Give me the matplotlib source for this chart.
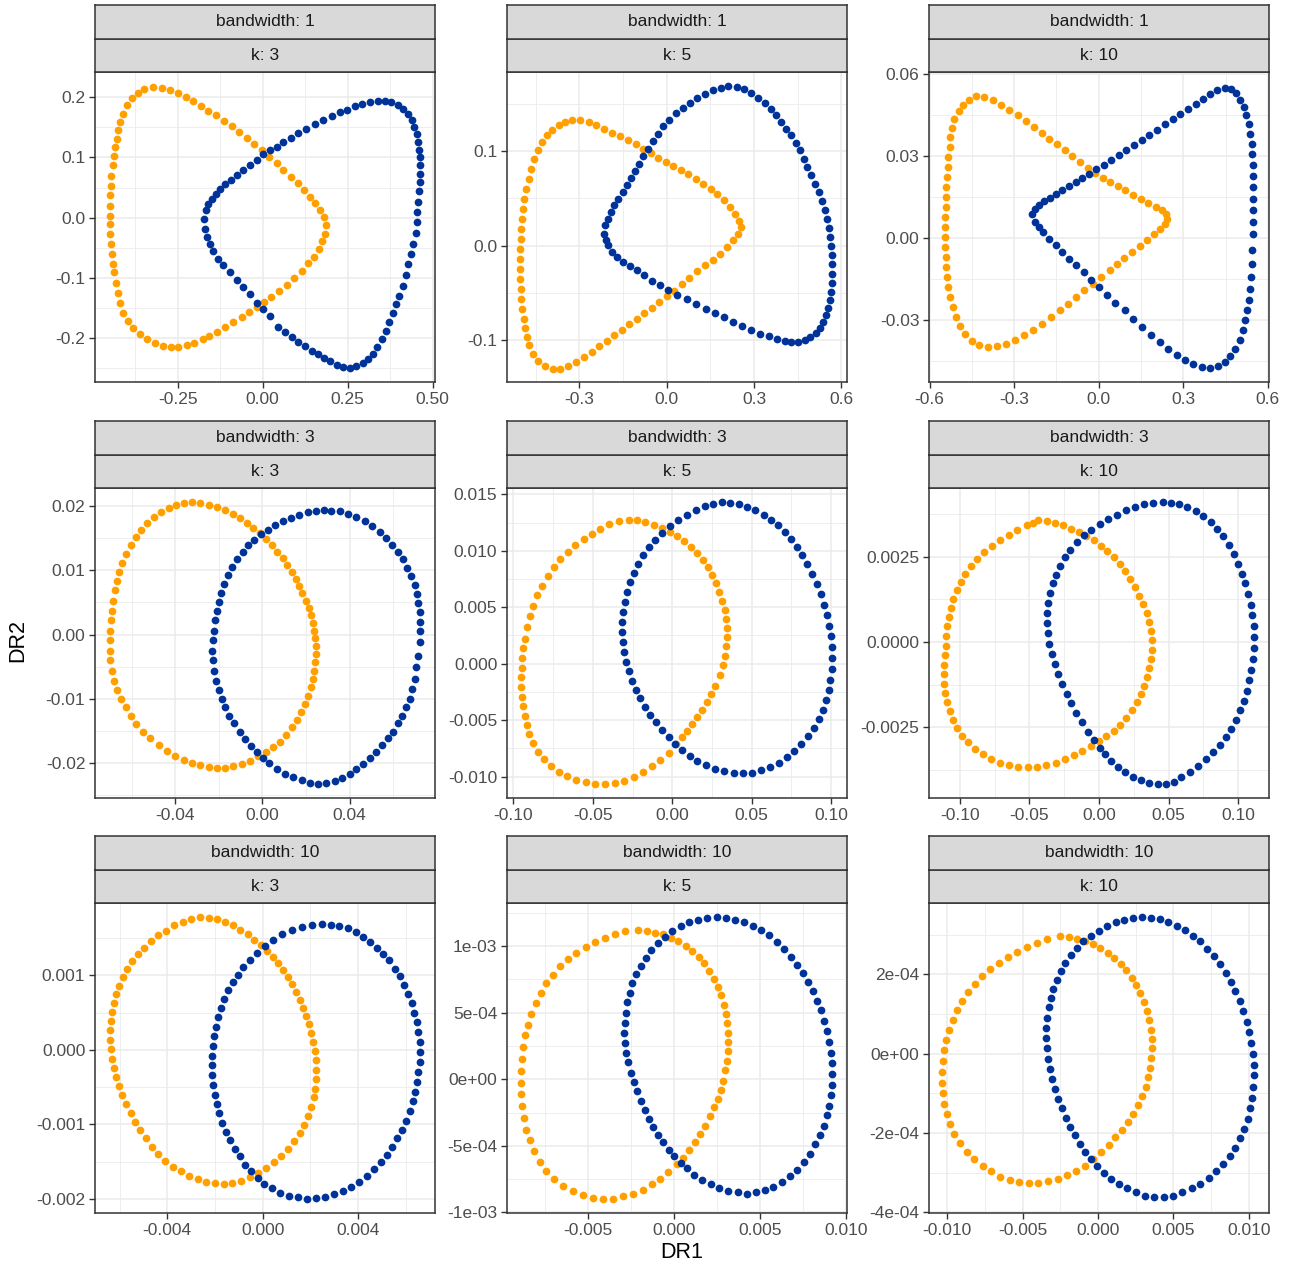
import numpy as np
import matplotlib
matplotlib.use("Agg")
import matplotlib.pyplot as plt
from matplotlib.ticker import FixedLocator, AutoMinorLocator

plt.rcParams["font.family"] = ["Liberation Sans", "DejaVu Sans"]

# ---------------------------------------------------------------------------
# Embedding coordinates (DR1, DR2) for each kernel bandwidth / neighbour count
# ---------------------------------------------------------------------------
bandwidths = [1, 3, 10]
ks = [3, 5, 10]

bw1_k3_orange = [
    (-0.321, 0.217), (-0.297, 0.216), (-0.272, 0.212), (-0.250, 0.207), (-0.226, 0.201),
    (-0.204, 0.194), (-0.181, 0.186), (-0.160, 0.178), (-0.137, 0.170), (-0.114, 0.161),
    (-0.091, 0.152), (-0.069, 0.142), (-0.047, 0.132), (-0.025, 0.123), (-0.003, 0.112),
    (0.020, 0.100), (0.041, 0.090), (0.061, 0.080), (0.082, 0.068), (0.103, 0.057),
    (0.122, 0.046), (0.139, 0.035), (0.154, 0.024), (0.169, 0.013), (0.180, 0.001),
    (0.186, -0.013), (0.183, -0.027), (0.176, -0.039), (0.167, -0.052), (0.151, -0.065),
    (0.134, -0.076), (0.115, -0.088), (0.092, -0.101), (0.071, -0.112), (0.049, -0.122),
    (0.026, -0.132), (0.004, -0.140), (-0.018, -0.148), (-0.039, -0.156), (-0.062, -0.165),
    (-0.086, -0.173), (-0.111, -0.182), (-0.135, -0.190), (-0.157, -0.197), (-0.176, -0.202),
    (-0.202, -0.208), (-0.223, -0.212), (-0.248, -0.215), (-0.270, -0.215), (-0.294, -0.213),
    (-0.317, -0.209), (-0.339, -0.202), (-0.361, -0.194), (-0.380, -0.183), (-0.397, -0.171),
    (-0.410, -0.158), (-0.419, -0.141), (-0.426, -0.125), (-0.431, -0.108), (-0.437, -0.091),
    (-0.441, -0.077), (-0.444, -0.061), (-0.447, -0.044), (-0.449, -0.027), (-0.449, -0.011),
    (-0.449, 0.003), (-0.449, 0.020), (-0.448, 0.037), (-0.447, 0.053), (-0.445, 0.070),
    (-0.441, 0.087), (-0.437, 0.103), (-0.433, 0.117), (-0.429, 0.131), (-0.424, 0.145),
    (-0.419, 0.159), (-0.412, 0.173), (-0.400, 0.187), (-0.385, 0.198), (-0.368, 0.207),
    (-0.349, 0.214),
]
bw1_k3_blue = [
    (-0.172, -0.002), (-0.168, 0.012), (-0.160, 0.023), (-0.150, 0.031), (-0.138, 0.039),
    (-0.125, 0.048), (-0.111, 0.056), (-0.094, 0.063), (-0.076, 0.071), (-0.057, 0.080),
    (-0.037, 0.088), (-0.018, 0.096), (0.002, 0.105), (0.022, 0.112), (0.041, 0.118),
    (0.061, 0.126), (0.082, 0.132), (0.105, 0.141), (0.129, 0.148), (0.154, 0.156),
    (0.178, 0.163), (0.203, 0.169), (0.227, 0.175), (0.247, 0.179), (0.272, 0.185),
    (0.291, 0.189), (0.316, 0.192), (0.340, 0.194), (0.360, 0.194), (0.379, 0.192),
    (0.399, 0.188), (0.414, 0.181), (0.428, 0.173), (0.438, 0.163), (0.446, 0.151),
    (0.453, 0.139), (0.458, 0.126), (0.460, 0.112), (0.463, 0.101), (0.463, 0.087),
    (0.463, 0.073), (0.463, 0.059), (0.461, 0.044), (0.458, 0.026), (0.455, 0.009),
    (0.453, -0.008), (0.450, -0.026), (0.443, -0.044), (0.436, -0.061), (0.428, -0.077),
    (0.421, -0.095), (0.412, -0.113), (0.402, -0.130), (0.392, -0.144), (0.382, -0.159),
    (0.373, -0.174), (0.362, -0.188), (0.350, -0.202), (0.337, -0.215), (0.325, -0.226),
    (0.311, -0.234), (0.294, -0.241), (0.276, -0.247), (0.257, -0.249), (0.237, -0.248),
    (0.218, -0.244), (0.198, -0.238), (0.180, -0.233), (0.164, -0.226), (0.144, -0.222),
    (0.125, -0.214), (0.105, -0.207), (0.085, -0.198), (0.066, -0.190), (0.046, -0.181),
    (0.022, -0.164), (0.000, -0.151), (-0.018, -0.141), (-0.037, -0.126), (-0.057, -0.115),
    (-0.076, -0.104), (-0.096, -0.091), (-0.116, -0.078), (-0.130, -0.068), (-0.145, -0.055),
    (-0.155, -0.044), (-0.165, -0.032), (-0.170, -0.019),
]

bw1_k5_orange = [
    (-0.325, 0.1336), (-0.297, 0.1329), (-0.268, 0.1308), (-0.242, 0.1276), (-0.215, 0.1240),
    (-0.188, 0.1198), (-0.160, 0.1159), (-0.134, 0.1117), (-0.106, 0.1074), (-0.080, 0.1028),
    (-0.055, 0.0982), (-0.029, 0.0933), (-0.002, 0.0887), (0.023, 0.0841), (0.048, 0.0799),
    (0.074, 0.0756), (0.100, 0.0710), (0.126, 0.0657), (0.151, 0.0604), (0.174, 0.0544),
    (0.196, 0.0481), (0.217, 0.0410), (0.234, 0.0339), (0.249, 0.0262), (0.254, 0.0198),
    (0.246, 0.0127), (0.228, 0.0057), (0.208, -0.0014), (0.183, -0.0085), (0.158, -0.0148),
    (0.131, -0.0209), (0.105, -0.0269), (0.078, -0.0339), (0.051, -0.0410), (0.025, -0.0481),
    (0.000, -0.0537), (-0.025, -0.0597), (-0.051, -0.0657), (-0.078, -0.0714), (-0.103, -0.0774),
    (-0.128, -0.0834), (-0.154, -0.0891), (-0.180, -0.0951), (-0.206, -0.1011), (-0.231, -0.1067),
    (-0.257, -0.1127), (-0.283, -0.1180), (-0.311, -0.1233), (-0.337, -0.1276), (-0.365, -0.1304),
    (-0.391, -0.1304), (-0.417, -0.1279), (-0.440, -0.1223), (-0.459, -0.1145), (-0.472, -0.1057),
    (-0.480, -0.0968), (-0.485, -0.0869), (-0.491, -0.0774), (-0.496, -0.0668), (-0.499, -0.0562),
    (-0.501, -0.0456), (-0.502, -0.0350), (-0.502, -0.0244), (-0.502, -0.0138), (-0.502, -0.0032),
    (-0.501, 0.0074), (-0.499, 0.0180), (-0.497, 0.0286), (-0.493, 0.0392), (-0.489, 0.0498),
    (-0.482, 0.0604), (-0.474, 0.0710), (-0.465, 0.0816), (-0.455, 0.0922), (-0.442, 0.1018),
    (-0.428, 0.1099), (-0.411, 0.1170), (-0.392, 0.1230), (-0.371, 0.1276), (-0.348, 0.1311),
]
bw1_k5_blue = [
    (-0.214, 0.0127), (-0.211, 0.0216), (-0.203, 0.0286), (-0.192, 0.0357), (-0.180, 0.0428),
    (-0.166, 0.0498), (-0.151, 0.0569), (-0.137, 0.0640), (-0.123, 0.0717), (-0.108, 0.0792),
    (-0.094, 0.0869), (-0.080, 0.0947), (-0.063, 0.1028), (-0.046, 0.1110), (-0.029, 0.1187),
    (-0.011, 0.1265), (0.009, 0.1336), (0.032, 0.1407), (0.055, 0.1463), (0.080, 0.1516),
    (0.105, 0.1566), (0.131, 0.1611), (0.158, 0.1647), (0.185, 0.1675), (0.211, 0.1689),
    (0.240, 0.1682), (0.266, 0.1657), (0.291, 0.1619), (0.314, 0.1569), (0.337, 0.1513),
    (0.357, 0.1452), (0.377, 0.1382), (0.394, 0.1311), (0.411, 0.1240), (0.428, 0.1170),
    (0.443, 0.1092), (0.457, 0.1011), (0.471, 0.0922), (0.483, 0.0834), (0.497, 0.0746),
    (0.510, 0.0657), (0.522, 0.0569), (0.533, 0.0474), (0.542, 0.0382), (0.550, 0.0286),
    (0.556, 0.0191), (0.562, 0.0092), (0.565, -0.0007), (0.568, -0.0102), (0.569, -0.0198),
    (0.569, -0.0297), (0.568, -0.0396), (0.565, -0.0491), (0.560, -0.0580), (0.554, -0.0657),
    (0.546, -0.0739), (0.537, -0.0809), (0.525, -0.0873), (0.512, -0.0926), (0.493, -0.0968),
    (0.474, -0.1004), (0.451, -0.1021), (0.428, -0.1021), (0.405, -0.1011), (0.379, -0.0990),
    (0.351, -0.0961), (0.320, -0.0933), (0.291, -0.0898), (0.260, -0.0855), (0.228, -0.0809),
    (0.196, -0.0756), (0.166, -0.0710), (0.134, -0.0668), (0.100, -0.0615), (0.069, -0.0562),
    (0.037, -0.0520), (0.006, -0.0466), (-0.023, -0.0413), (-0.051, -0.0375), (-0.078, -0.0315),
    (-0.103, -0.0262), (-0.126, -0.0216), (-0.151, -0.0173), (-0.171, -0.0120), (-0.188, -0.0067),
    (-0.202, 0.0004), (-0.209, 0.0064),
]

bw1_k10_orange = [
    (-0.435, 0.0520), (-0.406, 0.0517), (-0.376, 0.0505), (-0.347, 0.0489), (-0.318, 0.0471),
    (-0.288, 0.0450), (-0.259, 0.0429), (-0.229, 0.0407), (-0.202, 0.0386), (-0.176, 0.0365),
    (-0.149, 0.0344), (-0.121, 0.0322), (-0.094, 0.0300), (-0.065, 0.0279), (-0.038, 0.0259),
    (-0.012, 0.0239), (0.015, 0.0222), (0.041, 0.0206), (0.067, 0.0190), (0.094, 0.0176),
    (0.121, 0.0160), (0.149, 0.0145), (0.176, 0.0131), (0.203, 0.0115), (0.223, 0.0102),
    (0.239, 0.0088), (0.243, 0.0072), (0.235, 0.0054), (0.218, 0.0035), (0.196, 0.0015),
    (0.171, -0.0007), (0.145, -0.0028), (0.118, -0.0050), (0.091, -0.0071), (0.065, -0.0093),
    (0.039, -0.0115), (0.008, -0.0142), (-0.020, -0.0166), (-0.051, -0.0190), (-0.079, -0.0215),
    (-0.109, -0.0239), (-0.138, -0.0264), (-0.168, -0.0288), (-0.200, -0.0312), (-0.232, -0.0334),
    (-0.265, -0.0355), (-0.298, -0.0373), (-0.329, -0.0388), (-0.361, -0.0395), (-0.394, -0.0398),
    (-0.423, -0.0392), (-0.450, -0.0376), (-0.474, -0.0351), (-0.492, -0.0322), (-0.506, -0.0288),
    (-0.517, -0.0251), (-0.526, -0.0215), (-0.533, -0.0178), (-0.537, -0.0142), (-0.541, -0.0105),
    (-0.543, -0.0068), (-0.545, -0.0032), (-0.545, 0.0005), (-0.545, 0.0041), (-0.545, 0.0078),
    (-0.543, 0.0115), (-0.542, 0.0151), (-0.540, 0.0188), (-0.537, 0.0224), (-0.535, 0.0261),
    (-0.533, 0.0298), (-0.529, 0.0334), (-0.526, 0.0371), (-0.521, 0.0405), (-0.512, 0.0438),
    (-0.497, 0.0466), (-0.480, 0.0490), (-0.459, 0.0508),
]
bw1_k10_blue = [
    (-0.235, 0.0090), (-0.227, 0.0109), (-0.212, 0.0123), (-0.194, 0.0135), (-0.173, 0.0148),
    (-0.153, 0.0161), (-0.129, 0.0176), (-0.106, 0.0190), (-0.082, 0.0206), (-0.059, 0.0222),
    (-0.033, 0.0237), (-0.008, 0.0255), (0.018, 0.0270), (0.044, 0.0285), (0.071, 0.0304),
    (0.098, 0.0322), (0.126, 0.0340), (0.153, 0.0359), (0.180, 0.0379), (0.206, 0.0398),
    (0.235, 0.0420), (0.262, 0.0438), (0.288, 0.0456), (0.318, 0.0475), (0.345, 0.0493),
    (0.370, 0.0511), (0.394, 0.0527), (0.420, 0.0542), (0.447, 0.0551), (0.470, 0.0548),
    (0.488, 0.0532), (0.502, 0.0508), (0.514, 0.0481), (0.523, 0.0450), (0.532, 0.0420),
    (0.537, 0.0383), (0.542, 0.0346), (0.544, 0.0307), (0.547, 0.0267), (0.547, 0.0227),
    (0.548, 0.0188), (0.548, 0.0145), (0.548, 0.0102), (0.548, 0.0060), (0.547, 0.0017),
    (0.544, -0.0044), (0.542, -0.0093), (0.539, -0.0142), (0.535, -0.0184), (0.532, -0.0227),
    (0.526, -0.0264), (0.520, -0.0300), (0.512, -0.0337), (0.500, -0.0373), (0.485, -0.0404),
    (0.467, -0.0431), (0.447, -0.0453), (0.423, -0.0467), (0.394, -0.0475), (0.365, -0.0471),
    (0.335, -0.0459), (0.306, -0.0444), (0.276, -0.0426), (0.247, -0.0404), (0.218, -0.0379),
    (0.186, -0.0353), (0.155, -0.0325), (0.123, -0.0294), (0.092, -0.0264), (0.059, -0.0235),
    (0.029, -0.0209), (0.000, -0.0178), (-0.027, -0.0151), (-0.053, -0.0123), (-0.079, -0.0099),
    (-0.106, -0.0074), (-0.129, -0.0050), (-0.153, -0.0026), (-0.176, -0.0001), (-0.196, 0.0023),
    (-0.212, 0.0041), (-0.227, 0.0060),
]

bw3_k3_orange = [
    (-0.0323, 0.0206), (-0.0285, 0.0205), (-0.0247, 0.0202), (-0.0209, 0.0199), (-0.0171, 0.0194),
    (-0.0136, 0.0188), (-0.0102, 0.0181), (-0.0072, 0.0174), (-0.0041, 0.0166), (-0.0011, 0.0158),
    (0.0017, 0.0149), (0.0043, 0.0140), (0.0069, 0.0129), (0.0093, 0.0119), (0.0114, 0.0108),
    (0.0134, 0.0098), (0.0152, 0.0087), (0.0169, 0.0076), (0.0184, 0.0065), (0.0200, 0.0053),
    (0.0212, 0.0041), (0.0222, 0.0030), (0.0230, 0.0018), (0.0238, 0.0006), (0.0242, -0.0006),
    (0.0245, -0.0017), (0.0245, -0.0030), (0.0242, -0.0043), (0.0238, -0.0056), (0.0230, -0.0069),
    (0.0221, -0.0082), (0.0209, -0.0095), (0.0195, -0.0108), (0.0177, -0.0121), (0.0157, -0.0133),
    (0.0134, -0.0144), (0.0108, -0.0156), (0.0081, -0.0167), (0.0050, -0.0175), (0.0017, -0.0183),
    (-0.0018, -0.0189), (-0.0056, -0.0196), (-0.0094, -0.0201), (-0.0133, -0.0204), (-0.0171, -0.0207),
    (-0.0209, -0.0207), (-0.0247, -0.0206), (-0.0285, -0.0203), (-0.0323, -0.0200), (-0.0361, -0.0195),
    (-0.0399, -0.0188), (-0.0437, -0.0181), (-0.0475, -0.0172), (-0.0514, -0.0161), (-0.0547, -0.0151),
    (-0.0578, -0.0139), (-0.0605, -0.0126), (-0.0628, -0.0113), (-0.0648, -0.0100), (-0.0666, -0.0086),
    (-0.0681, -0.0072), (-0.0692, -0.0056), (-0.0698, -0.0040), (-0.0701, -0.0025), (-0.0701, -0.0009),
    (-0.0700, 0.0006), (-0.0696, 0.0022), (-0.0692, 0.0037), (-0.0686, 0.0053), (-0.0678, 0.0069),
    (-0.0669, 0.0084), (-0.0657, 0.0098), (-0.0643, 0.0112), (-0.0625, 0.0126), (-0.0605, 0.0139),
    (-0.0582, 0.0152), (-0.0556, 0.0163), (-0.0529, 0.0174), (-0.0498, 0.0183), (-0.0465, 0.0190),
    (-0.0430, 0.0197), (-0.0395, 0.0202), (-0.0358, 0.0205),
]
bw3_k3_blue = [
    (0.0317, 0.0193), (0.0355, 0.0192), (0.0393, 0.0188), (0.0431, 0.0183), (0.0469, 0.0176),
    (0.0504, 0.0169), (0.0538, 0.0160), (0.0568, 0.0151), (0.0596, 0.0140), (0.0622, 0.0129),
    (0.0645, 0.0117), (0.0664, 0.0104), (0.0683, 0.0091), (0.0698, 0.0077), (0.0709, 0.0063),
    (0.0716, 0.0049), (0.0721, 0.0035), (0.0724, 0.0020), (0.0724, 0.0005), (0.0721, -0.0012),
    (0.0713, -0.0033), (0.0706, -0.0051), (0.0698, -0.0069), (0.0687, -0.0085), (0.0675, -0.0100),
    (0.0660, -0.0113), (0.0642, -0.0126), (0.0622, -0.0138), (0.0599, -0.0151), (0.0576, -0.0161),
    (0.0550, -0.0172), (0.0523, -0.0182), (0.0492, -0.0192), (0.0462, -0.0201), (0.0431, -0.0209),
    (0.0401, -0.0217), (0.0367, -0.0223), (0.0332, -0.0228), (0.0294, -0.0231), (0.0256, -0.0233),
    (0.0218, -0.0230), (0.0180, -0.0226), (0.0142, -0.0222), (0.0104, -0.0216), (0.0066, -0.0209),
    (0.0032, -0.0200), (0.0002, -0.0192), (-0.0026, -0.0183), (-0.0052, -0.0173), (-0.0079, -0.0162),
    (-0.0105, -0.0151), (-0.0130, -0.0138), (-0.0151, -0.0126), (-0.0171, -0.0113), (-0.0187, -0.0100),
    (-0.0201, -0.0086), (-0.0213, -0.0072), (-0.0223, -0.0056), (-0.0227, -0.0040), (-0.0229, -0.0025),
    (-0.0227, -0.0009), (-0.0224, 0.0006), (-0.0218, 0.0022), (-0.0210, 0.0036), (-0.0201, 0.0050),
    (-0.0189, 0.0065), (-0.0175, 0.0078), (-0.0158, 0.0092), (-0.0140, 0.0105), (-0.0117, 0.0117),
    (-0.0091, 0.0128), (-0.0064, 0.0139), (-0.0037, 0.0147), (-0.0006, 0.0156), (0.0024, 0.0162),
    (0.0058, 0.0170), (0.0093, 0.0176), (0.0130, 0.0182), (0.0169, 0.0186), (0.0207, 0.0190),
    (0.0245, 0.0193), (0.0282, 0.0194),
]

bw3_k5_orange = [
    (-0.0275, 0.01275), (-0.0222, 0.01269), (-0.0170, 0.01255), (-0.0117, 0.01231), (-0.0065, 0.01201),
    (-0.0017, 0.01166), (0.0029, 0.01127), (0.0076, 0.01083), (0.0117, 0.01033), (0.0155, 0.00979),
    (0.0191, 0.00920), (0.0222, 0.00855), (0.0250, 0.00787), (0.0275, 0.00716), (0.0296, 0.00639),
    (0.0315, 0.00559), (0.0329, 0.00479), (0.0340, 0.00397), (0.0344, 0.00314), (0.0344, 0.00234),
    (0.0340, 0.00154), (0.0331, 0.00071), (0.0319, -0.00012), (0.0298, -0.00101), (0.0271, -0.00195),
    (0.0245, -0.00269), (0.0218, -0.00343), (0.0187, -0.00411), (0.0155, -0.00476), (0.0124, -0.00536),
    (0.0092, -0.00595), (0.0061, -0.00654), (0.0025, -0.00713), (-0.0023, -0.00787), (-0.0076, -0.00852),
    (-0.0128, -0.00908), (-0.0185, -0.00959), (-0.0243, -0.01003), (-0.0302, -0.01036), (-0.0363, -0.01056),
    (-0.0424, -0.01065), (-0.0485, -0.01062), (-0.0545, -0.01050), (-0.0604, -0.01030), (-0.0661, -0.00997),
    (-0.0713, -0.00956), (-0.0764, -0.00905), (-0.0808, -0.00846), (-0.0845, -0.00781), (-0.0877, -0.00707),
    (-0.0900, -0.00627), (-0.0917, -0.00544), (-0.0929, -0.00462), (-0.0940, -0.00379), (-0.0946, -0.00293),
    (-0.0950, -0.00207), (-0.0950, -0.00121), (-0.0948, -0.00036), (-0.0944, 0.00050), (-0.0938, 0.00136),
    (-0.0929, 0.00219), (-0.0915, 0.00323), (-0.0898, 0.00420), (-0.0877, 0.00515), (-0.0852, 0.00604),
    (-0.0820, 0.00692), (-0.0785, 0.00775), (-0.0747, 0.00855), (-0.0705, 0.00923), (-0.0659, 0.00988),
    (-0.0611, 0.01047), (-0.0558, 0.01101), (-0.0506, 0.01151), (-0.0453, 0.01195), (-0.0397, 0.01234),
    (-0.0338, 0.01261),
]
bw3_k5_blue = [
    (0.0313, 0.01432), (0.0365, 0.01426), (0.0418, 0.01411), (0.0470, 0.01388), (0.0522, 0.01358),
    (0.0575, 0.01320), (0.0621, 0.01275), (0.0665, 0.01225), (0.0707, 0.01166), (0.0747, 0.01101),
    (0.0785, 0.01033), (0.0816, 0.00959), (0.0848, 0.00879), (0.0879, 0.00796), (0.0911, 0.00707),
    (0.0936, 0.00618), (0.0957, 0.00524), (0.0973, 0.00432), (0.0988, 0.00337), (0.0997, 0.00243),
    (0.1003, 0.00145), (0.1005, 0.00047), (0.1003, -0.00047), (0.0994, -0.00142), (0.0984, -0.00234),
    (0.0967, -0.00323), (0.0946, -0.00408), (0.0921, -0.00491), (0.0890, -0.00571), (0.0854, -0.00645),
    (0.0812, -0.00713), (0.0768, -0.00772), (0.0722, -0.00826), (0.0669, -0.00876), (0.0617, -0.00914),
    (0.0560, -0.00944), (0.0501, -0.00965), (0.0445, -0.00971), (0.0386, -0.00965), (0.0327, -0.00950),
    (0.0271, -0.00929), (0.0214, -0.00900), (0.0159, -0.00861), (0.0109, -0.00817), (0.0061, -0.00766),
    (0.0019, -0.00713), (-0.0023, -0.00654), (-0.0065, -0.00589), (-0.0103, -0.00521), (-0.0138, -0.00453),
    (-0.0170, -0.00382), (-0.0201, -0.00308), (-0.0229, -0.00231), (-0.0254, -0.00151), (-0.0275, -0.00068),
    (-0.0292, 0.00018), (-0.0304, 0.00107), (-0.0313, 0.00195), (-0.0317, 0.00284), (-0.0315, 0.00373),
    (-0.0308, 0.00462), (-0.0298, 0.00550), (-0.0283, 0.00639), (-0.0264, 0.00722), (-0.0241, 0.00805),
    (-0.0214, 0.00885), (-0.0183, 0.00959), (-0.0147, 0.01030), (-0.0107, 0.01098), (-0.0063, 0.01160),
    (-0.0015, 0.01219), (0.0038, 0.01272), (0.0092, 0.01320), (0.0149, 0.01361), (0.0204, 0.01394),
    (0.0258, 0.01417),
]

bw3_k10_orange = [
    (-0.0436, 0.00357), (-0.0376, 0.00355), (-0.0317, 0.00350), (-0.0257, 0.00343), (-0.0198, 0.00333),
    (-0.0143, 0.00322), (-0.0090, 0.00311), (-0.0038, 0.00298), (0.0012, 0.00283), (0.0060, 0.00267),
    (0.0105, 0.00249), (0.0148, 0.00229), (0.0188, 0.00208), (0.0226, 0.00185), (0.0260, 0.00161),
    (0.0290, 0.00136), (0.0319, 0.00112), (0.0343, 0.00085), (0.0362, 0.00058), (0.0374, 0.00031),
    (0.0381, 0.00005), (0.0381, -0.00023), (0.0374, -0.00050), (0.0362, -0.00076), (0.0345, -0.00103),
    (0.0326, -0.00128), (0.0302, -0.00153), (0.0271, -0.00177), (0.0236, -0.00201), (0.0195, -0.00223),
    (0.0152, -0.00243), (0.0105, -0.00261), (0.0052, -0.00277), (-0.0002, -0.00291), (-0.0060, -0.00305),
    (-0.0119, -0.00319), (-0.0181, -0.00331), (-0.0245, -0.00343), (-0.0312, -0.00354), (-0.0379, -0.00362),
    (-0.0445, -0.00367), (-0.0512, -0.00368), (-0.0579, -0.00367), (-0.0645, -0.00362), (-0.0710, -0.00354),
    (-0.0774, -0.00343), (-0.0833, -0.00329), (-0.0888, -0.00314), (-0.0940, -0.00295), (-0.0983, -0.00275),
    (-0.1019, -0.00253), (-0.1050, -0.00228), (-0.1074, -0.00204), (-0.1093, -0.00177), (-0.1105, -0.00150),
    (-0.1112, -0.00123), (-0.1114, -0.00094), (-0.1112, -0.00067), (-0.1107, -0.00038), (-0.1102, -0.00011),
    (-0.1098, 0.00017), (-0.1090, 0.00046), (-0.1081, 0.00074), (-0.1067, 0.00100), (-0.1048, 0.00126),
    (-0.1024, 0.00152), (-0.0995, 0.00176), (-0.0960, 0.00200), (-0.0919, 0.00222), (-0.0874, 0.00243),
    (-0.0824, 0.00264), (-0.0769, 0.00281), (-0.0710, 0.00299), (-0.0650, 0.00315), (-0.0586, 0.00329),
    (-0.0521, 0.00342), (-0.0474, 0.00350),
]
bw3_k10_blue = [
    (0.0457, 0.00411), (0.0517, 0.00409), (0.0576, 0.00404), (0.0636, 0.00396), (0.0695, 0.00384),
    (0.0750, 0.00369), (0.0802, 0.00353), (0.0850, 0.00333), (0.0893, 0.00311), (0.0933, 0.00286),
    (0.0969, 0.00259), (0.1000, 0.00230), (0.1029, 0.00201), (0.1052, 0.00172), (0.1074, 0.00141),
    (0.1090, 0.00110), (0.1102, 0.00078), (0.1112, 0.00046), (0.1114, 0.00015), (0.1112, -0.00018),
    (0.1105, -0.00050), (0.1095, -0.00081), (0.1081, -0.00113), (0.1062, -0.00143), (0.1040, -0.00172),
    (0.1014, -0.00201), (0.0983, -0.00228), (0.0950, -0.00255), (0.0912, -0.00279), (0.0869, -0.00303),
    (0.0821, -0.00324), (0.0769, -0.00344), (0.0712, -0.00364), (0.0652, -0.00381), (0.0593, -0.00397),
    (0.0536, -0.00410), (0.0481, -0.00417), (0.0421, -0.00417), (0.0362, -0.00413), (0.0302, -0.00405),
    (0.0245, -0.00395), (0.0188, -0.00382), (0.0136, -0.00367), (0.0088, -0.00349), (0.0045, -0.00330),
    (0.0005, -0.00310), (-0.0036, -0.00287), (-0.0079, -0.00263), (-0.0121, -0.00236), (-0.0162, -0.00209),
    (-0.0200, -0.00180), (-0.0233, -0.00152), (-0.0264, -0.00123), (-0.0293, -0.00093), (-0.0319, -0.00064),
    (-0.0340, -0.00034), (-0.0357, -0.00005), (-0.0369, 0.00025), (-0.0374, 0.00056), (-0.0371, 0.00085),
    (-0.0364, 0.00115), (-0.0350, 0.00144), (-0.0331, 0.00172), (-0.0307, 0.00198), (-0.0279, 0.00224),
    (-0.0245, 0.00249), (-0.0205, 0.00271), (-0.0160, 0.00293), (-0.0110, 0.00313), (-0.0055, 0.00330),
    (0.0005, 0.00347), (0.0064, 0.00362), (0.0129, 0.00374), (0.0195, 0.00387), (0.0260, 0.00397),
    (0.0326, 0.00404), (0.0390, 0.00409),
]

bw10_k3_orange = [
    (-0.00261, 0.00178), (-0.00226, 0.00177), (-0.00191, 0.00175), (-0.00156, 0.00171), (-0.00124, 0.00167),
    (-0.00094, 0.00161), (-0.00063, 0.00155), (-0.00035, 0.00148), (-0.00007, 0.00141), (0.00018, 0.00133),
    (0.00042, 0.00125), (0.00064, 0.00116), (0.00085, 0.00107), (0.00105, 0.00098), (0.00123, 0.00088),
    (0.00140, 0.00077), (0.00155, 0.00067), (0.00169, 0.00056), (0.00181, 0.00045), (0.00193, 0.00034),
    (0.00202, 0.00022), (0.00211, 0.00010), (0.00218, -0.00002), (0.00222, -0.00014), (0.00225, -0.00027),
    (0.00223, -0.00039), (0.00221, -0.00052), (0.00214, -0.00064), (0.00204, -0.00077), (0.00191, -0.00089),
    (0.00174, -0.00101), (0.00155, -0.00112), (0.00133, -0.00123), (0.00106, -0.00133), (0.00077, -0.00142),
    (0.00046, -0.00151), (0.00014, -0.00159), (-0.00021, -0.00165), (-0.00054, -0.00171), (-0.00091, -0.00176),
    (-0.00127, -0.00179), (-0.00163, -0.00180), (-0.00200, -0.00179), (-0.00236, -0.00177), (-0.00272, -0.00174),
    (-0.00307, -0.00169), (-0.00342, -0.00163), (-0.00376, -0.00157), (-0.00408, -0.00149), (-0.00438, -0.00140),
    (-0.00466, -0.00130), (-0.00491, -0.00119), (-0.00515, -0.00108), (-0.00536, -0.00097), (-0.00554, -0.00085),
    (-0.00571, -0.00073), (-0.00588, -0.00061), (-0.00602, -0.00049), (-0.00614, -0.00037), (-0.00624, -0.00024),
    (-0.00631, -0.00012), (-0.00637, 0.00001), (-0.00639, 0.00013), (-0.00639, 0.00026), (-0.00637, 0.00039),
    (-0.00631, 0.00051), (-0.00624, 0.00063), (-0.00614, 0.00075), (-0.00602, 0.00086), (-0.00586, 0.00098),
    (-0.00568, 0.00108), (-0.00547, 0.00119), (-0.00524, 0.00129), (-0.00498, 0.00137), (-0.00470, 0.00146),
    (-0.00440, 0.00154), (-0.00406, 0.00160), (-0.00373, 0.00167), (-0.00336, 0.00172), (-0.00300, 0.00176),
]
bw10_k3_blue = [
    (0.00248, 0.00169), (0.00286, 0.00168), (0.00322, 0.00166), (0.00357, 0.00163), (0.00391, 0.00158),
    (0.00423, 0.00152), (0.00452, 0.00145), (0.00480, 0.00137), (0.00507, 0.00129), (0.00532, 0.00120),
    (0.00556, 0.00109), (0.00577, 0.00099), (0.00595, 0.00087), (0.00611, 0.00075), (0.00625, 0.00063),
    (0.00637, 0.00050), (0.00646, 0.00037), (0.00653, 0.00024), (0.00658, 0.00011), (0.00659, -0.00003),
    (0.00658, -0.00016), (0.00653, -0.00030), (0.00648, -0.00043), (0.00639, -0.00056), (0.00630, -0.00069),
    (0.00617, -0.00082), (0.00602, -0.00095), (0.00585, -0.00107), (0.00565, -0.00119), (0.00544, -0.00130),
    (0.00521, -0.00141), (0.00496, -0.00151), (0.00468, -0.00160), (0.00437, -0.00169), (0.00405, -0.00177),
    (0.00371, -0.00184), (0.00336, -0.00189), (0.00300, -0.00194), (0.00262, -0.00197), (0.00225, -0.00199),
    (0.00186, -0.00200), (0.00148, -0.00198), (0.00110, -0.00196), (0.00074, -0.00192), (0.00039, -0.00186),
    (0.00007, -0.00180), (-0.00021, -0.00172), (-0.00047, -0.00163), (-0.00073, -0.00154), (-0.00096, -0.00143),
    (-0.00117, -0.00133), (-0.00137, -0.00121), (-0.00154, -0.00110), (-0.00169, -0.00098), (-0.00181, -0.00085),
    (-0.00193, -0.00073), (-0.00201, -0.00060), (-0.00208, -0.00047), (-0.00212, -0.00034), (-0.00214, -0.00021),
    (-0.00212, -0.00008), (-0.00209, 0.00005), (-0.00204, 0.00018), (-0.00195, 0.00031), (-0.00186, 0.00044),
    (-0.00175, 0.00056), (-0.00161, 0.00068), (-0.00144, 0.00080), (-0.00126, 0.00091), (-0.00105, 0.00101),
    (-0.00081, 0.00111), (-0.00053, 0.00121), (-0.00022, 0.00130), (0.00010, 0.00139), (0.00045, 0.00148),
    (0.00082, 0.00155), (0.00123, 0.00161), (0.00165, 0.00165), (0.00207, 0.00168),
]

bw10_k5_orange = [
    (-0.00206, 0.00112), (-0.00157, 0.00111), (-0.00109, 0.00110), (-0.00060, 0.00109), (-0.00016, 0.00106),
    (0.00027, 0.00104), (0.00070, 0.00100), (0.00109, 0.00096), (0.00146, 0.00092), (0.00178, 0.00087),
    (0.00208, 0.00081), (0.00235, 0.00075), (0.00258, 0.00069), (0.00277, 0.00063), (0.00293, 0.00056),
    (0.00305, 0.00049), (0.00312, 0.00042), (0.00316, 0.00035), (0.00316, 0.00028), (0.00314, 0.00021),
    (0.00308, 0.00014), (0.00301, 0.00007), (0.00289, -0.00001), (0.00274, -0.00008), (0.00256, -0.00015),
    (0.00235, -0.00021), (0.00211, -0.00028), (0.00184, -0.00035), (0.00155, -0.00041), (0.00122, -0.00047),
    (0.00087, -0.00053), (0.00052, -0.00059), (0.00017, -0.00064), (-0.00031, -0.00070), (-0.00080, -0.00075),
    (-0.00128, -0.00079), (-0.00180, -0.00083), (-0.00235, -0.00086), (-0.00293, -0.00088), (-0.00351, -0.00090),
    (-0.00409, -0.00090), (-0.00468, -0.00089), (-0.00526, -0.00087), (-0.00584, -0.00084), (-0.00642, -0.00080),
    (-0.00695, -0.00075), (-0.00739, -0.00069), (-0.00778, -0.00062), (-0.00811, -0.00054), (-0.00836, -0.00046),
    (-0.00856, -0.00038), (-0.00871, -0.00029), (-0.00881, -0.00020), (-0.00887, -0.00011), (-0.00889, -0.00003),
    (-0.00887, 0.00006), (-0.00883, 0.00015), (-0.00875, 0.00024), (-0.00863, 0.00033), (-0.00848, 0.00041),
    (-0.00826, 0.00049), (-0.00801, 0.00057), (-0.00772, 0.00065), (-0.00739, 0.00072), (-0.00700, 0.00078),
    (-0.00658, 0.00085), (-0.00613, 0.00090), (-0.00565, 0.00095), (-0.00512, 0.00099), (-0.00458, 0.00103),
    (-0.00400, 0.00106), (-0.00342, 0.00109), (-0.00283, 0.00111),
]
bw10_k5_blue = [
    (0.00250, 0.00122), (0.00305, 0.00121), (0.00357, 0.00120), (0.00409, 0.00118), (0.00460, 0.00115),
    (0.00508, 0.00112), (0.00555, 0.00108), (0.00599, 0.00103), (0.00642, 0.00098), (0.00681, 0.00092),
    (0.00718, 0.00086), (0.00751, 0.00080), (0.00782, 0.00073), (0.00809, 0.00066), (0.00834, 0.00059),
    (0.00856, 0.00052), (0.00875, 0.00044), (0.00890, 0.00036), (0.00902, 0.00028), (0.00912, 0.00020),
    (0.00918, 0.00012), (0.00920, 0.00004), (0.00918, -0.00004), (0.00912, -0.00012), (0.00902, -0.00020),
    (0.00889, -0.00027), (0.00871, -0.00035), (0.00848, -0.00042), (0.00821, -0.00049), (0.00790, -0.00056),
    (0.00755, -0.00062), (0.00716, -0.00068), (0.00673, -0.00073), (0.00629, -0.00077), (0.00580, -0.00081),
    (0.00530, -0.00083), (0.00477, -0.00085), (0.00425, -0.00086), (0.00371, -0.00085), (0.00318, -0.00084),
    (0.00266, -0.00082), (0.00215, -0.00079), (0.00167, -0.00076), (0.00120, -0.00072), (0.00078, -0.00067),
    (0.00041, -0.00063), (0.00004, -0.00058), (-0.00029, -0.00053), (-0.00060, -0.00047), (-0.00089, -0.00042),
    (-0.00118, -0.00036), (-0.00144, -0.00030), (-0.00169, -0.00023), (-0.00192, -0.00016), (-0.00213, -0.00009),
    (-0.00233, -0.00002), (-0.00250, 0.00005), (-0.00264, 0.00013), (-0.00275, 0.00020), (-0.00283, 0.00027),
    (-0.00287, 0.00035), (-0.00285, 0.00042), (-0.00279, 0.00050), (-0.00270, 0.00058), (-0.00256, 0.00065),
    (-0.00239, 0.00072), (-0.00217, 0.00079), (-0.00192, 0.00085), (-0.00163, 0.00091), (-0.00130, 0.00097),
    (-0.00093, 0.00102), (-0.00052, 0.00107), (-0.00008, 0.00111), (0.00041, 0.00115), (0.00091, 0.00118),
    (0.00143, 0.00120), (0.00196, 0.00121),
]

bw10_k10_orange = [
    (-0.00250, 0.000296), (-0.00195, 0.000294), (-0.00140, 0.000290), (-0.00084, 0.000284), (-0.00033, 0.000276),
    (0.00016, 0.000267), (0.00064, 0.000255), (0.00109, 0.000242), (0.00151, 0.000227), (0.00188, 0.000211),
    (0.00224, 0.000192), (0.00255, 0.000173), (0.00281, 0.000152), (0.00303, 0.000130), (0.00323, 0.000107),
    (0.00339, 0.000084), (0.00350, 0.000060), (0.00357, 0.000037), (0.00359, 0.000013), (0.00354, -0.000012),
    (0.00346, -0.000036), (0.00332, -0.000060), (0.00315, -0.000084), (0.00292, -0.000107), (0.00266, -0.000130),
    (0.00235, -0.000152), (0.00199, -0.000173), (0.00159, -0.000193), (0.00115, -0.000211), (0.00071, -0.000230),
    (0.00020, -0.000248), (-0.00033, -0.000267), (-0.00089, -0.000283), (-0.00146, -0.000296), (-0.00206, -0.000307),
    (-0.00268, -0.000315), (-0.00332, -0.000322), (-0.00396, -0.000326), (-0.00461, -0.000326), (-0.00525, -0.000324),
    (-0.00587, -0.000318), (-0.00649, -0.000310), (-0.00709, -0.000297), (-0.00766, -0.000283), (-0.00822, -0.000266),
    (-0.00870, -0.000247), (-0.00915, -0.000226), (-0.00952, -0.000202), (-0.00981, -0.000178), (-0.01003, -0.000153),
    (-0.01019, -0.000127), (-0.01028, -0.000100), (-0.01032, -0.000073), (-0.01032, -0.000046), (-0.01028, -0.000019),
    (-0.01019, 0.000008), (-0.01006, 0.000034), (-0.00988, 0.000060), (-0.00964, 0.000086), (-0.00935, 0.000110),
    (-0.00902, 0.000133), (-0.00862, 0.000155), (-0.00817, 0.000176), (-0.00769, 0.000195), (-0.00715, 0.000213),
    (-0.00658, 0.000229), (-0.00598, 0.000243), (-0.00536, 0.000256), (-0.00472, 0.000268), (-0.00405, 0.000280),
    (-0.00339, 0.000289),
]
bw10_k10_blue = [
    (0.00292, 0.000345), (0.00352, 0.000343), (0.00410, 0.000339), (0.00467, 0.000332), (0.00525, 0.000323),
    (0.00578, 0.000311), (0.00629, 0.000298), (0.00678, 0.000283), (0.00724, 0.000265), (0.00769, 0.000246),
    (0.00808, 0.000226), (0.00846, 0.000204), (0.00879, 0.000181), (0.00910, 0.000158), (0.00939, 0.000133),
    (0.00964, 0.000107), (0.00986, 0.000081), (0.01003, 0.000055), (0.01017, 0.000028), (0.01028, 0.000000),
    (0.01032, -0.000028), (0.01034, -0.000055), (0.01030, -0.000083), (0.01023, -0.000111), (0.01010, -0.000138),
    (0.00992, -0.000164), (0.00970, -0.000189), (0.00944, -0.000213), (0.00910, -0.000237), (0.00873, -0.000258),
    (0.00831, -0.000279), (0.00784, -0.000297), (0.00733, -0.000314), (0.00678, -0.000328), (0.00620, -0.000340),
    (0.00560, -0.000349), (0.00498, -0.000358), (0.00436, -0.000362), (0.00374, -0.000362), (0.00312, -0.000358),
    (0.00253, -0.000350), (0.00195, -0.000340), (0.00140, -0.000329), (0.00086, -0.000316), (0.00038, -0.000301),
    (-0.00007, -0.000284), (-0.00047, -0.000267), (-0.00084, -0.000248), (-0.00120, -0.000227), (-0.00153, -0.000206),
    (-0.00184, -0.000185), (-0.00213, -0.000162), (-0.00239, -0.000138), (-0.00264, -0.000114), (-0.00286, -0.000089),
    (-0.00306, -0.000064), (-0.00321, -0.000039), (-0.00334, -0.000013), (-0.00341, 0.000013), (-0.00346, 0.000039),
    (-0.00343, 0.000065), (-0.00339, 0.000091), (-0.00328, 0.000117), (-0.00315, 0.000141), (-0.00297, 0.000164),
    (-0.00275, 0.000187), (-0.00248, 0.000209), (-0.00217, 0.000229), (-0.00182, 0.000248), (-0.00142, 0.000266),
    (-0.00097, 0.000283), (-0.00049, 0.000297), (0.00004, 0.000310), (0.00060, 0.000321), (0.00117, 0.000331),
    (0.00175, 0.000338), (0.00232, 0.000343),
]

curves = {
    (1, 3): (bw1_k3_orange, bw1_k3_blue),
    (1, 5): (bw1_k5_orange, bw1_k5_blue),
    (1, 10): (bw1_k10_orange, bw1_k10_blue),
    (3, 3): (bw3_k3_orange, bw3_k3_blue),
    (3, 5): (bw3_k5_orange, bw3_k5_blue),
    (3, 10): (bw3_k10_orange, bw3_k10_blue),
    (10, 3): (bw10_k3_orange, bw10_k3_blue),
    (10, 5): (bw10_k5_orange, bw10_k5_blue),
    (10, 10): (bw10_k10_orange, bw10_k10_blue),
}

# Axis breaks and labels per facet
x_breaks = {
    (1, 3): ([-0.25, 0, 0.25, 0.5], ["-0.25", "0.00", "0.25", "0.50"]),
    (1, 5): ([-0.3, 0, 0.3, 0.6], ["-0.3", "0.0", "0.3", "0.6"]),
    (1, 10): ([-0.6, -0.3, 0, 0.3, 0.6], ["-0.6", "-0.3", "0.0", "0.3", "0.6"]),
    (3, 3): ([-0.04, 0, 0.04], ["-0.04", "0.00", "0.04"]),
    (3, 5): ([-0.1, -0.05, 0, 0.05, 0.1], ["-0.10", "-0.05", "0.00", "0.05", "0.10"]),
    (3, 10): ([-0.1, -0.05, 0, 0.05, 0.1], ["-0.10", "-0.05", "0.00", "0.05", "0.10"]),
    (10, 3): ([-0.004, 0, 0.004], ["-0.004", "0.000", "0.004"]),
    (10, 5): ([-0.005, 0, 0.005, 0.01], ["-0.005", "0.000", "0.005", "0.010"]),
    (10, 10): ([-0.01, -0.005, 0, 0.005, 0.01], ["-0.010", "-0.005", "0.000", "0.005", "0.010"]),
}
y_breaks = {
    (1, 3): ([-0.2, -0.1, 0, 0.1, 0.2], ["-0.2", "-0.1", "0.0", "0.1", "0.2"]),
    (1, 5): ([-0.1, 0, 0.1], ["-0.1", "0.0", "0.1"]),
    (1, 10): ([-0.03, 0, 0.03, 0.06], ["-0.03", "0.00", "0.03", "0.06"]),
    (3, 3): ([-0.02, -0.01, 0, 0.01, 0.02], ["-0.02", "-0.01", "0.00", "0.01", "0.02"]),
    (3, 5): ([-0.01, -0.005, 0, 0.005, 0.01, 0.015],
             ["-0.010", "-0.005", "0.000", "0.005", "0.010", "0.015"]),
    (3, 10): ([-0.0025, 0, 0.0025], ["-0.0025", "0.0000", "0.0025"]),
    (10, 3): ([-0.002, -0.001, 0, 0.001], ["-0.002", "-0.001", "0.000", "0.001"]),
    (10, 5): ([-1e-3, -5e-4, 0, 5e-4, 1e-3], ["-1e-03", "-5e-04", "0e+00", "5e-04", "1e-03"]),
    (10, 10): ([-4e-4, -2e-4, 0, 2e-4], ["-4e-04", "-2e-04", "0e+00", "2e-04"]),
}
# Panel ranges (free scales)
x_limits = {
    (1, 3): (-0.493, 0.507), (1, 5): (-0.548, 0.619), (1, 10): (-0.602, 0.604),
    (3, 3): (-0.0768, 0.0792), (3, 5): (-0.1040, 0.1100), (3, 10): (-0.1222, 0.1222),
    (10, 3): (-0.00703, 0.00723), (10, 5): (-0.00968, 0.01007), (10, 10): (-0.01121, 0.01134),
}
y_limits = {
    (1, 3): (-0.273, 0.242), (1, 5): (-0.1445, 0.184), (1, 10): (-0.0526, 0.0609),
    (3, 3): (-0.0254, 0.0228), (3, 5): (-0.0119, 0.01556), (3, 10): (-0.00458, 0.00452),
    (10, 3): (-0.00219, 0.00197), (10, 5): (-0.001005, 0.001324), (10, 10): (-0.000402, 0.000380),
}

ORANGE = "#FFA000"
BLUE = "#003399"
STRIP_FILL = "#D9D9D9"
DARK = "#333333"
GRID = "#EBEBEB"
TICK_TEXT = "#4D4D4D"

W, H = 1296, 1268
fig = plt.figure(figsize=(W / 100, H / 100), dpi=100)
fig.patch.set_facecolor("white")

col_left = [95, 507, 929]
row_top = [72, 488, 903]
panel_w, panel_h = 340, 310
strip_h = 33.5


def box(x0, y0, w, h):
    return [x0 / W, 1 - (y0 + h) / H, w / W, h / H]


def add_strip(x0, y0, label):
    s = fig.add_axes(box(x0, y0, panel_w, strip_h))
    s.set_facecolor(STRIP_FILL)
    s.set_xticks([])
    s.set_yticks([])
    for sp in s.spines.values():
        sp.set_color(DARK)
        sp.set_linewidth(1.1)
    s.text(0.5, 0.5, label, ha="center", va="center", fontsize=12.5,
           color="#1A1A1A", transform=s.transAxes)


for r, bw in enumerate(bandwidths):
    for c, k in enumerate(ks):
        key = (bw, k)
        x0, y0 = col_left[c], row_top[r]
        ax = fig.add_axes(box(x0, y0, panel_w, panel_h))
        ax.set_facecolor("white")
        ax.set_axisbelow(True)

        first, second = curves[key]
        a = np.array(first)
        b = np.array(second)
        ax.scatter(a[:, 0], a[:, 1], s=31, color=ORANGE, linewidths=0, zorder=3)
        ax.scatter(b[:, 0], b[:, 1], s=31, color=BLUE, linewidths=0, zorder=4)

        ax.set_xlim(*x_limits[key])
        ax.set_ylim(*y_limits[key])

        xt, xl = x_breaks[key]
        yt, yl = y_breaks[key]
        ax.xaxis.set_major_locator(FixedLocator(xt))
        ax.yaxis.set_major_locator(FixedLocator(yt))
        ax.set_xticklabels(xl)
        ax.set_yticklabels(yl)
        ax.xaxis.set_minor_locator(AutoMinorLocator(2))
        ax.yaxis.set_minor_locator(AutoMinorLocator(2))

        ax.grid(which="major", color=GRID, linewidth=1.1)
        ax.grid(which="minor", color=GRID, linewidth=0.6)
        ax.tick_params(which="major", length=4, width=1.0, color=DARK,
                       labelcolor=TICK_TEXT, labelsize=12.5, pad=3)
        ax.tick_params(which="minor", length=0)
        for sp in ax.spines.values():
            sp.set_color(DARK)
            sp.set_linewidth(1.1)

        add_strip(x0, y0 - strip_h, f"k: {k}")
        add_strip(x0, y0 - 2 * strip_h, f"bandwidth: {bw}")

fig.text(682 / W, 1 - 1252 / H, "DR1", ha="center", va="center", fontsize=15.5, color="black")
fig.text(18 / W, 1 - 641 / H, "DR2", ha="center", va="center", fontsize=15.5,
         rotation=90, color="black")

fig.savefig("out.png", dpi=100, facecolor="white")
